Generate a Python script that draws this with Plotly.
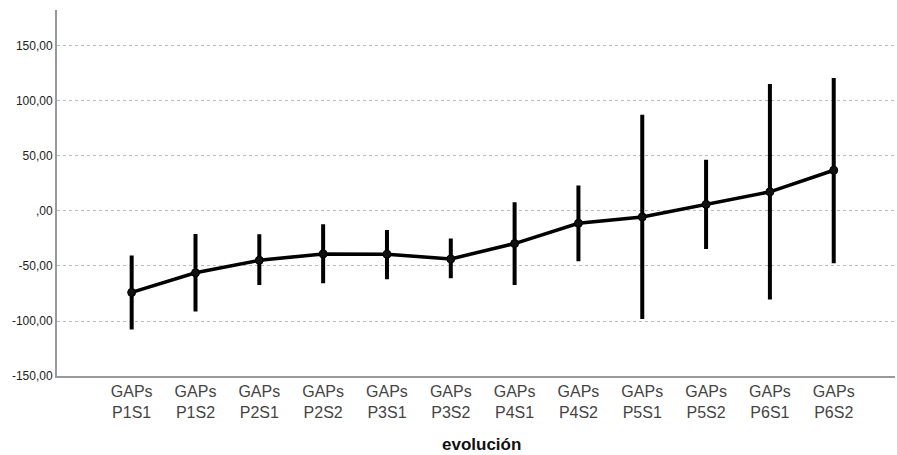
import plotly.graph_objects as go

# Evolution of GAPs scores per period/semester: mean with 95% CI
categories = ["P1S1", "P1S2", "P2S1", "P2S2", "P3S1", "P3S2",
              "P4S1", "P4S2", "P5S1", "P5S2", "P6S1", "P6S2"]
label_prefix = "GAPs"
means = [-74.0, -56.2, -44.8, -39.0, -39.3, -43.6,
         -29.6, -11.2, -5.4, 6.0, 17.4, 37.0]
ci_upper = [-42.3, -22.7, -22.9, -13.8, -19.0, -26.8,
            6.2, 21.4, 85.6, 44.7, 113.6, 119.0]
ci_lower = [-106.0, -89.6, -65.4, -63.9, -60.2, -59.3,
            -65.4, -43.9, -96.4, -32.7, -78.7, -45.7]
y_ticks = [-150, -100, -50, 0, 50, 100, 150]
y_tick_text = ["-150,00", "-100,00", "-50,00", ",00", "50,00", "100,00", "150,00"]
x_title = "evolución"

x_idx = list(range(len(categories)))
x_tick_text = [label_prefix + "<br>" + c for c in categories]
err_plus = [u - m for u, m in zip(ci_upper, means)]
err_minus = [m - l for m, l in zip(means, ci_lower)]

font_family = "Liberation Sans, Arial, sans-serif"
label_color = "#444444"

fig = go.Figure()
fig.add_trace(go.Scatter(
    x=x_idx, y=means,
    mode="lines+markers",
    line=dict(color="#000000", width=3.5),
    marker=dict(size=8, color="#111111", line=dict(color="#000000", width=1)),
    error_y=dict(type="data", symmetric=False, array=err_plus, arrayminus=err_minus,
                 color="#000000", thickness=4, width=2),
    showlegend=False,
    hoverinfo="skip",
))

# axis title
fig.add_annotation(
    x=0.5, xref="paper", y=0, yref="paper",
    yanchor="top", yshift=-57, xshift=5,
    text="<b>" + x_title + "</b>", showarrow=False,
    font=dict(size=17, color="#111111", family=font_family),
)

fig.update_layout(
    width=897, height=455,
    margin=dict(l=57, r=2, t=10, b=79),
    paper_bgcolor="white", plot_bgcolor="white",
    font=dict(family=font_family),
    xaxis=dict(
        range=[-1.17, 11.96],
        tickmode="array", tickvals=x_idx, ticktext=x_tick_text,
        tickfont=dict(size=16, color=label_color),
        showgrid=False, zeroline=False,
        showline=True, linecolor="#999999", linewidth=2,
        ticks="", ticklen=0,
    ),
    yaxis=dict(
        range=[-150, 182.7],
        tickmode="array", tickvals=y_ticks, ticktext=y_tick_text,
        tickfont=dict(size=12, color="#222222"),
        showgrid=True, gridcolor="#bbbbbb", griddash="dot", gridwidth=1,
        zeroline=False,
        showline=True, linecolor="#999999", linewidth=2,
        ticks="", ticklen=0,
    ),
)

fig.write_html("out.html")
